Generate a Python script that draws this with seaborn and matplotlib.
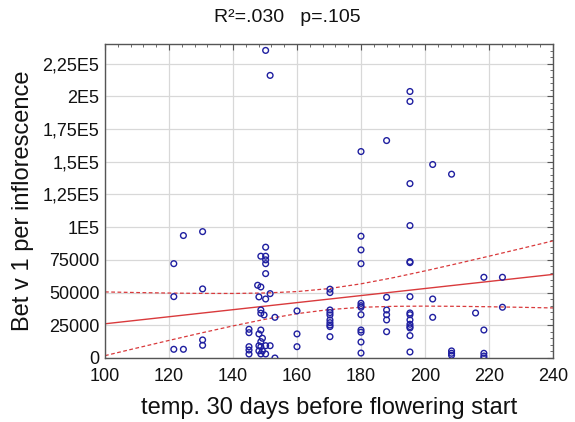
import matplotlib
matplotlib.use("Agg")
import matplotlib.pyplot as plt
import pandas as pd
import seaborn as sns
from matplotlib.ticker import AutoMinorLocator, FixedLocator, FixedFormatter

# values, one column of points per temperature
temp = (
    [121.5] * 3 + [124.5] * 2 + [130.5] * 4 + [145.0] * 5 + [147.7] + [148.1] * 4
    + [148.7] * 8 + [149.2] * 2 + [149.7] + [150.2] * 9 + [151.6] * 3 + [153.1] * 2
    + [160.0] * 3 + [170.3] * 10 + [180.0] * 12 + [188.0] * 6 + [195.3] * 15
    + [202.4] * 3 + [208.3] * 4 + [215.8] + [218.4] * 5 + [224.2] * 2
)
bet = [
    72100, 46900, 6650,
    93600, 6650,
    96600, 52800, 13800, 9700,
    21950, 19350, 8650, 6100, 3050,
    55600,
    46700, 18400, 9400, 5400,
    77800, 54300, 36700, 34200, 21400, 12500, 8650, 3100,
    15100, 5400,
    32900,
    235100, 84700, 77800, 75000, 72100, 64500, 45100, 9400, 3100,
    216000, 49200, 9400,
    31100, 0,
    36000, 18400, 8650,
    52600, 50000, 36700, 34700, 32900, 29100, 27000, 25200, 24000, 16300,
    157800, 93100, 82600, 72100, 41800, 40000, 38800, 33100, 21400, 19700, 12200, 3800,
    166200, 46400, 36700, 33100, 29100, 20100,
    203700, 196100, 133300, 101200, 73700, 72900, 46900, 34400, 33100, 29100,
    25800, 24000, 22950, 17100, 4600,
    147900, 45100, 31100,
    140500, 5400, 3600, 2100,
    34400,
    61700, 21400, 3600, 1500, 0,
    61700, 38800,
]

# regression line and its 95% band, every 10 degrees
fit_x = [100, 110, 120, 130, 140, 150, 160, 170, 180, 190, 200, 210, 220, 230, 240]
fit_y = [26150, 28850, 31540, 34240, 36930, 39630, 42330, 45020, 47720, 50410,
         53110, 55810, 58500, 61200, 63890]
band_hi = [50500, 50030, 49640, 49380, 49330, 49680, 50770, 53050, 56690, 61340,
           66570, 72110, 77820, 83640, 89520]
band_lo = [1800, 7660, 13440, 19100, 24540, 29580, 33880, 36990, 38750, 39490,
           39650, 39500, 39180, 38750, 38260]

y_ticks = [0, 25000, 50000, 75000, 100000, 125000, 150000, 175000, 200000, 225000]
y_tick_labels = ["0", "25000", "50000", "75000", "1E5", "1,25E5", "1,5E5",
                 "1,75E5", "2E5", "2,25E5"]
x_ticks = [100, 120, 140, 160, 180, 200, 220, 240]
title = "R²=.030   p=.105"

d = pd.DataFrame({"temp": temp, "bet": bet})
reg = pd.DataFrame({"x": fit_x, "fit": fit_y, "hi": band_hi, "lo": band_lo})

sns.set_style("white")
plt.rcParams["font.family"] = ["Liberation Sans", "DejaVu Sans"]
plt.rcParams["text.color"] = "#111111"
plt.rcParams["axes.labelcolor"] = "#111111"

fig = plt.figure(figsize=(5.75, 4.22), dpi=100)
ax = fig.add_axes([105 / 575, 1 - 358 / 422, 448 / 575, 314 / 422])

ax.grid(True, color="#d8d8d8", linewidth=0.9)
ax.set_axisbelow(True)

red = "#d93a3c"
sns.lineplot(data=reg, x="x", y="fit", ax=ax, color=red, linewidth=1.0, zorder=2)
sns.lineplot(data=reg, x="x", y="hi", ax=ax, color=red, linewidth=0.9,
             linestyle=(0, (3, 2)), zorder=2)
sns.lineplot(data=reg, x="x", y="lo", ax=ax, color=red, linewidth=0.9,
             linestyle=(0, (3, 2)), zorder=2)

sns.scatterplot(data=d, x="temp", y="bet", ax=ax, marker="o", s=17,
                facecolor="none", edgecolor="#1f1fa0", linewidth=1.0, zorder=3)

ax.set_xlim(100, 240)
ax.set_ylim(0, 240000)
ax.xaxis.set_major_locator(FixedLocator(x_ticks))
ax.yaxis.set_major_locator(FixedLocator(y_ticks))
ax.yaxis.set_major_formatter(FixedFormatter(y_tick_labels))
ax.xaxis.set_minor_locator(AutoMinorLocator(5))
ax.yaxis.set_minor_locator(AutoMinorLocator(5))
ax.tick_params(which="both", direction="in", top=True, right=True, color="#555555",
               labelcolor="#111111")
ax.tick_params(which="major", length=4, labelsize=13)
ax.tick_params(axis="x", which="major", pad=7)
ax.tick_params(axis="y", which="major", pad=4)
ax.tick_params(which="minor", length=2)
for sp in ax.spines.values():
    sp.set_color("#555555")
    sp.set_linewidth(1.0)

ax.set_xlabel("temp. 30 days before flowering start", fontsize=17, labelpad=9)
ax.set_ylabel("Bet v 1 per inflorescence", fontsize=17, labelpad=6)
fig.text(0.5, 1 - 17 / 422, title, fontsize=14, ha="center", va="center")

fig.savefig("out.png", dpi=100)
